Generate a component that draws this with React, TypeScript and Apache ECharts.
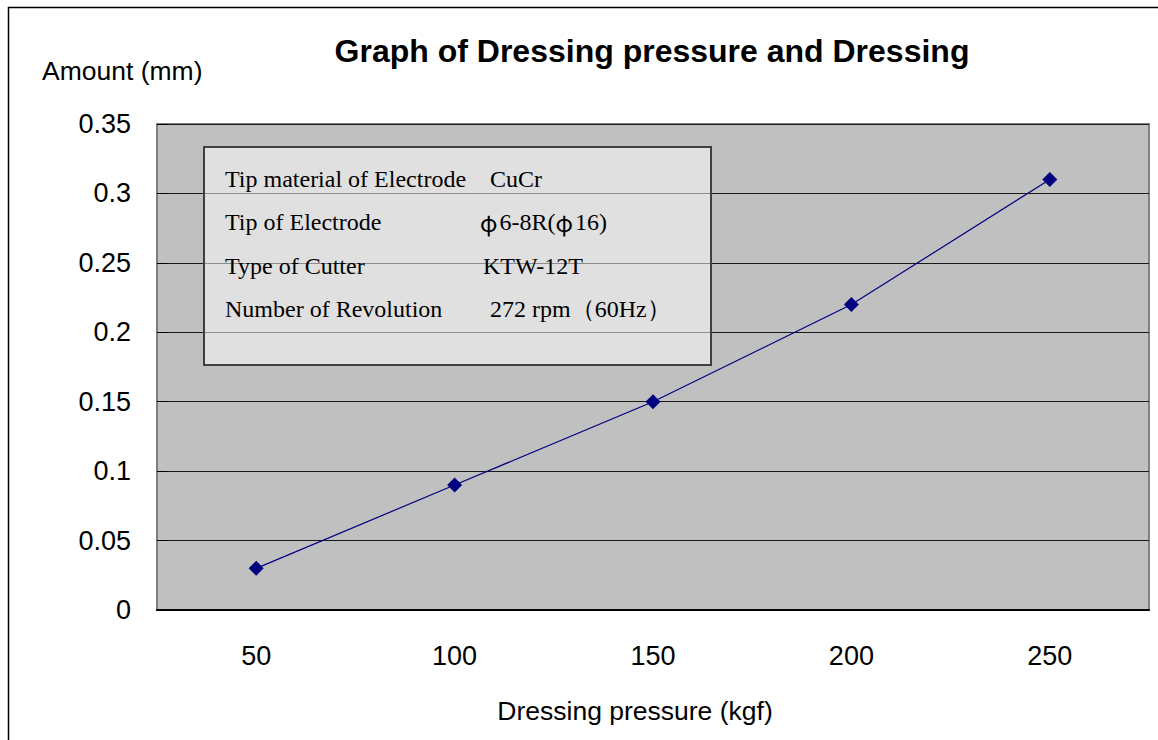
import React, { useEffect, useRef } from "react";
import * as echarts from "echarts";

const categories = ["50", "100", "150", "200", "250"];
const amounts = [0.03, 0.09, 0.15, 0.22, 0.31];
const infoLabels = ["Tip material of Electrode", "Tip of Electrode", "Type of Cutter", "Number of Revolution"];
const infoValues = ["CuCr", "{p|φ}6-8R({p|φ}16)", "KTW-12T", "272 rpm（60Hz）"];

const SANS = "'Liberation Sans', Arial, sans-serif";
const SERIF = "'Liberation Serif', 'Times New Roman', serif";

export default function App() {
  const ref = useRef<HTMLDivElement>(null);
  useEffect(() => {
    if (!ref.current) return;
    const chart = echarts.init(ref.current, null, { renderer: "svg" });
    const valueX = [490, 480, 483, 490];
    const lineY = [180, 223, 267, 310];
    const infoTexts: any[] = [];
    infoLabels.forEach((t, i) => {
      infoTexts.push({
        type: "text",
        left: 225,
        top: lineY[i] - 13,
        z: 20,
        style: { text: t, font: `24px ${SERIF}`, fill: "#000" },
      });
      infoTexts.push({
        type: "text",
        left: valueX[i],
        top: lineY[i] - 13,
        z: 20,
        style: {
          text: infoValues[i],
          font: `24px ${SERIF}`,
          fill: "#000",
          rich: {
            p: { fontFamily: "'Noto Sans CJK JP', sans-serif", fontSize: 23, fill: "#000", padding: [0, 2, 0, 0] },
          },
        },
      });
    });
    chart.setOption({
      animation: false,
      backgroundColor: "#fff",
      title: {
        text: "Graph of Dressing pressure and Dressing",
        left: 647,
        textAlign: "center",
        top: 30,
        textStyle: { fontFamily: SANS, fontWeight: "bold", fontSize: 32, color: "#000" },
      },
      grid: {
        left: 157,
        top: 124,
        width: 992,
        height: 486,
        show: true,
        backgroundColor: "#C0C0C0",
        borderColor: "#808080",
        borderWidth: 2,
      },
      xAxis: {
        type: "category",
        data: categories,
        boundaryGap: true,
        name: "Dressing pressure (kgf)",
        nameLocation: "middle",
        nameGap: 87,
        nameTextStyle: { fontFamily: SANS, fontSize: 26.5, color: "#000", padding: [0, 36, 0, 0] },
        axisLine: { lineStyle: { color: "#000", width: 2 } },
        axisTick: { inside: true, length: 10, lineStyle: { color: "#000" } },
        axisLabel: { fontFamily: SANS, fontSize: 27, color: "#000", margin: 32 },
        splitLine: { show: false },
      },
      yAxis: {
        type: "value",
        min: 0,
        max: 0.35,
        interval: 0.05,
        axisLine: { show: true, lineStyle: { color: "#808080", width: 2 } },
        axisTick: { show: true, inside: true, length: 10, lineStyle: { color: "#000" } },
        axisLabel: {
          fontFamily: SANS,
          fontSize: 27,
          color: "#000",
          margin: 26,
          formatter: (v: number) => String(parseFloat(v.toFixed(2))),
        },
        splitLine: { show: true, lineStyle: { color: "#1a1a1a", width: 1 } },
      },
      series: [
        {
          type: "line",
          data: amounts,
          symbol: "diamond",
          symbolSize: [15, 15],
          itemStyle: { color: "#000080" },
          lineStyle: { color: "#000080", width: 1.2 },
          z: 5,
        },
      ],
      graphic: [
        {
          type: "rect",
          left: 6,
          top: 5,
          z: 30,
          silent: true,
          shape: { width: 1170, height: 760 },
          style: { fill: "none", stroke: "#000", lineWidth: 1.5 },
        },
        {
          type: "text",
          left: 42,
          top: 57,
          z: 20,
          style: { text: "Amount (mm)", font: `26.5px ${SANS}`, fill: "#000" },
        },
        {
          type: "rect",
          left: 203,
          top: 146,
          z: 15,
          shape: { width: 507, height: 218 },
          style: { fill: "rgba(255,255,255,0.5)", stroke: "#404040", lineWidth: 2 },
        },
        ...infoTexts,
      ],
    });
    return () => chart.dispose();
  }, []);
  return (
    <div
      ref={ref}
      style={{ position: "absolute", left: 0, top: 0, width: 1158, height: 740 }}
    />
  );
}
